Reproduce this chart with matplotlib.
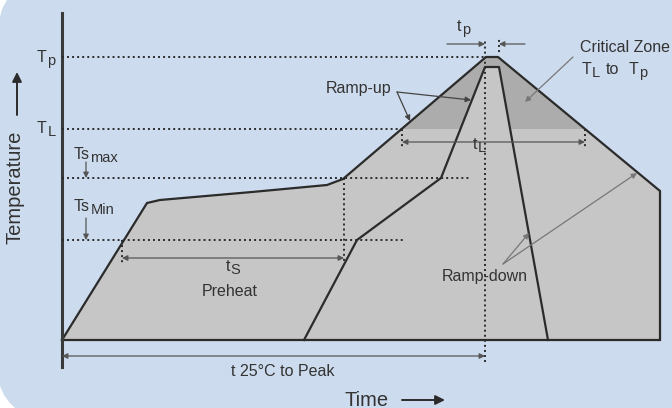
import numpy as np
import matplotlib.pyplot as plt
from matplotlib.patches import Polygon, Rectangle

plt.rcParams['font.family'] = ['Liberation Sans', 'DejaVu Sans']

# reference temperatures (diagram units, 0 = 25°C)
T_P = 283
T_L = 211
TS_MAX = 162
TS_MIN = 100

# outer (max) profile
outer_time = [0, 85, 98, 190, 265, 281, 424, 436, 598, 598]
outer_temp = [0, 137, 140, 148, 155, 161, 283, 283, 149, 0]

# inner (min) profile
inner_time = [242, 295, 379, 423, 437, 486]
inner_temp = [0, 100, 162, 273, 273, 0]

# time markers
t_ts_start = 60
t_ts_end = 282
t_l_start = 340
t_l_end = 523
t_peak = 423
t_peak_end = 436

DARK = "#2b2b2b"
TXT = "#333333"
LIGHT = "#c6c6c6"
ZONE = "#acacac"
BG = "#ccdbed"

fig = plt.figure(figsize=(6.72, 4.08), dpi=100, facecolor="white")

# rounded blue background (pixel outline)
bx = [7, 672, 672, 15, 9, 4, 0, 0, 2]
by = [0, 0, 408, 408, 402, 395, 386, 17, 9]
bg = Polygon(np.column_stack([np.array(bx) / 672, 1 - np.array(by) / 408]),
             closed=True, transform=fig.transFigure, facecolor=BG,
             edgecolor="none", zorder=-5)
fig.patches.append(bg)

ax = fig.add_axes([0, 0, 1, 1])
ax.set_xlim(-62, 610)
ax.set_ylim(-68, 340)
ax.axis("off")

# outer profile area
ax.fill(outer_time, outer_temp, color=LIGHT, zorder=1)
zone = ax.fill(outer_time, outer_temp, color=ZONE, zorder=2)[0]
clip = Rectangle((-100, T_L), 800, 200, transform=ax.transData)
zone.set_clip_path(clip)
ax.fill(inner_time, inner_temp, color=LIGHT, zorder=3)
ax.plot(outer_time + [0], outer_temp + [0], color=DARK, lw=1.6, zorder=4,
        solid_joinstyle="miter")
ax.plot(inner_time, inner_temp, color=DARK, lw=1.6, zorder=4)

# temperature axis
ax.plot([0, 0], [-27, 327], color="#3a3a3a", lw=2.2, zorder=5)

dot = dict(color=DARK, ls=(0, (1, 1.6)), lw=1.4, zorder=5)
ax.plot([0, t_peak], [T_P, T_P], **dot)
ax.plot([0, t_l_start], [T_L, T_L], **dot)
ax.plot([0, 408], [TS_MAX, TS_MAX], **dot)
ax.plot([0, 341], [TS_MIN, TS_MIN], **dot)
ax.plot([t_peak, t_peak], [-22, 300], **dot)
ax.plot([t_peak_end + 1, t_peak_end + 1], [288, 303], **dot)
ax.plot([t_ts_start, t_ts_start], [TS_MIN, 77], **dot)
ax.plot([t_ts_end, t_ts_end], [TS_MAX, 78], **dot)
ax.plot([t_l_start, t_l_start], [T_L, 192], **dot)
ax.plot([t_l_end, t_l_end], [T_L, 192], **dot)


def arrow(x0, y0, x1, y1, style="-|>", color="#555555", lw=0.9):
    ax.annotate("", xy=(x1, y1), xytext=(x0, y0),
                arrowprops=dict(arrowstyle=style, color=color, lw=lw,
                                mutation_scale=8, shrinkA=0, shrinkB=0),
                zorder=6)


arrow(t_ts_start, 82, t_ts_end, 82, "<|-|>")
arrow(t_l_start, 198, t_l_end, 198, "<|-|>")
arrow(0, -16, t_peak, -16, "<|-|>")
arrow(385, 296, t_peak, 296)
arrow(463, 296, t_peak_end + 1, 296)
arrow(24, 178, 24, TS_MAX)
arrow(24, 122, 24, TS_MIN)
arrow(335, 248, 348, 219, color="#444444")
arrow(335, 248, 409, 240, color="#444444")
arrow(511, 283, 463, 238, color="#777777")
arrow(441, 76, 467, 107, color="#777777")
arrow(441, 76, 575, 167, color="#777777")

fs = 11.5
txt = dict(color=TXT, fontsize=fs, zorder=7)


def sub_label(x, y, base, sub, ha="left", sub_fs=10.5):
    t = ax.text(x, y, base, ha=ha, va="baseline", **txt)
    ax.annotate(sub, xy=(1, 0), xycoords=t, xytext=(0.3, 0),
                textcoords="offset points", ha="left", va="baseline",
                color=TXT, fontsize=sub_fs, zorder=7)
    return t


sub_label(-20, T_P - 5, "T", "p", ha="center")
sub_label(-20, T_L - 4, "T", "L", ha="center")
sub_label(12, 181, "Ts", "max")
sub_label(12, 129, "Ts", "Min")
sub_label(397, 309, "t", "p", ha="center")
ax.text(518, 288, "Critical Zone", ha="left", va="baseline", **txt)
sub_label(520, 266, "T", "L")
ax.text(544, 266, "to", ha="left", va="baseline", **txt)
sub_label(567, 266, "T", "p")
ax.text(297, 252, "Ramp-up", ha="center", va="center", **txt)
sub_label(413, 191, "t", "L", ha="center")
sub_label(166, 69, "t", "S", ha="center")
ax.text(168, 49, "Preheat", ha="center", va="center", **txt)
ax.text(423, 63, "Ramp-down", ha="center", va="center", **txt)
ax.text(221, -31, "t 25°C to Peak", ha="center", va="center", **txt)
ax.text(305, -60, "Time", ha="center", va="center", color=TXT, fontsize=14.5)
ax.text(-47, 153, "Temperature", ha="center", va="center", rotation=90,
        color=TXT, fontsize=14.5)
ax.annotate("", xy=(383, -60), xytext=(340, -60),
            arrowprops=dict(arrowstyle="-|>", color=DARK, lw=1.4,
                            mutation_scale=14, shrinkA=0, shrinkB=0))
ax.annotate("", xy=(-45, 268), xytext=(-45, 225),
            arrowprops=dict(arrowstyle="-|>", color=DARK, lw=1.4,
                            mutation_scale=14, shrinkA=0, shrinkB=0))

fig.savefig("out.png", dpi=100, facecolor="white")
